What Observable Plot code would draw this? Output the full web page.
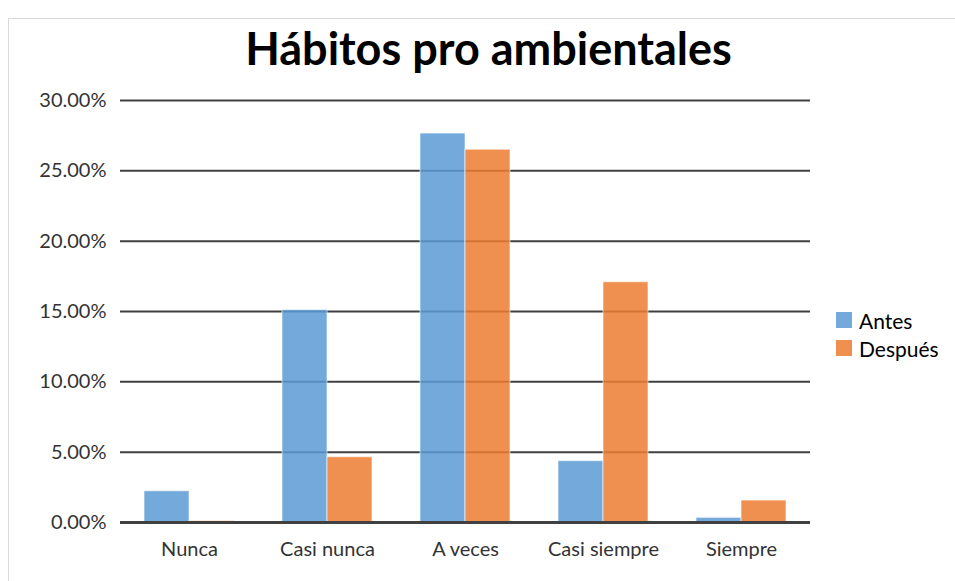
<!DOCTYPE html>
<html>
<head>
<meta charset="utf-8">
<script src="https://cdn.jsdelivr.net/npm/d3@7"></script>
<script src="https://cdn.jsdelivr.net/npm/@observablehq/plot@0.6"></script>
<style>
  html, body { margin: 0; padding: 0; background: #fff; }
  #wrap { position: relative; width: 955px; height: 581px; overflow: hidden; font-family: Lato, "Open Sans", sans-serif; }
  #frame { position: absolute; left: 8px; top: 18px; width: 960px; height: 600px; border: 1px solid #d9d9d9; box-sizing: border-box; }
  #title { position: absolute; left: 11px; width: 955px; top: 19px; text-align: center; font-size: 45px; font-weight: bold; color: #000; line-height: 58px; }
  #legend { position: absolute; left: 836px; top: 306px; font-size: 21px; color: #000; }
  .item { display: flex; align-items: center; height: 28px; }
  .sw { width: 16px; height: 16px; margin-right: 7px; }
  #chart { position: absolute; left: 0; top: 0; }
  #chart svg text { font-size: 20px; fill: #333333; }
</style>
</head>
<body>
<div id="wrap">
  <div id="frame"></div>
  <div id="chart"></div>
  <div id="title">Hábitos pro ambientales</div>
  <div id="legend"></div>
</div>
<script>
const categories = ["Nunca", "Casi nunca", "A veces", "Casi siempre", "Siempre"];
const seriesNames = ["Antes", "Después"];
const antes = [2.22, 15.1, 27.65, 4.36, 0.33];
const despues = [0.1, 4.64, 26.5, 17.08, 1.56];
const yTicks = [0, 5, 10, 15, 20, 25, 30];
const colors = ["#5B9BD5", "#ED7D31"];

const data = [];
categories.forEach((c, i) => {
  data.push({cat: c, series: "Antes", value: antes[i]});
  data.push({cat: c, series: "Después", value: despues[i]});
});

const chart = Plot.plot({
  width: 955,
  height: 581,
  marginLeft: 119,
  marginRight: 145,
  marginTop: 100,
  marginBottom: 59,
  style: {fontFamily: "Lato, 'Open Sans', sans-serif", fontSize: "20px", color: "#333333", background: "transparent"},
  fx: {domain: categories, padding: 0, label: null, tickSize: 0, tickPadding: 19, axis: "bottom"},
  x: {domain: seriesNames, paddingInner: 0, paddingOuter: 0.53, axis: null},
  y: {domain: [0, 30], ticks: yTicks, tickFormat: d => d.toFixed(2) + "%", tickSize: 0, tickPadding: 14, label: null},
  color: {domain: seriesNames, range: colors},
  marks: [
    Plot.ruleY(yTicks.filter(d => d > 0), {stroke: "#404040", strokeWidth: 2}),
    Plot.barY(data, {fx: "cat", x: "series", y: "value", fill: "series", fillOpacity: 0.85, stroke: "#ffffff", strokeOpacity: 0.6, strokeWidth: 1, inset: 0}),
    Plot.ruleY([0], {stroke: "#404040", strokeWidth: 3})
  ]
});
document.getElementById("chart").appendChild(chart);

const legend = document.getElementById("legend");
seriesNames.forEach((s, i) => {
  const it = document.createElement("div");
  it.className = "item";
  it.innerHTML = `<div class="sw" style="background:${colors[i]};opacity:0.85"></div><span>${s}</span>`;
  legend.appendChild(it);
});
</script>
</body>
</html>
